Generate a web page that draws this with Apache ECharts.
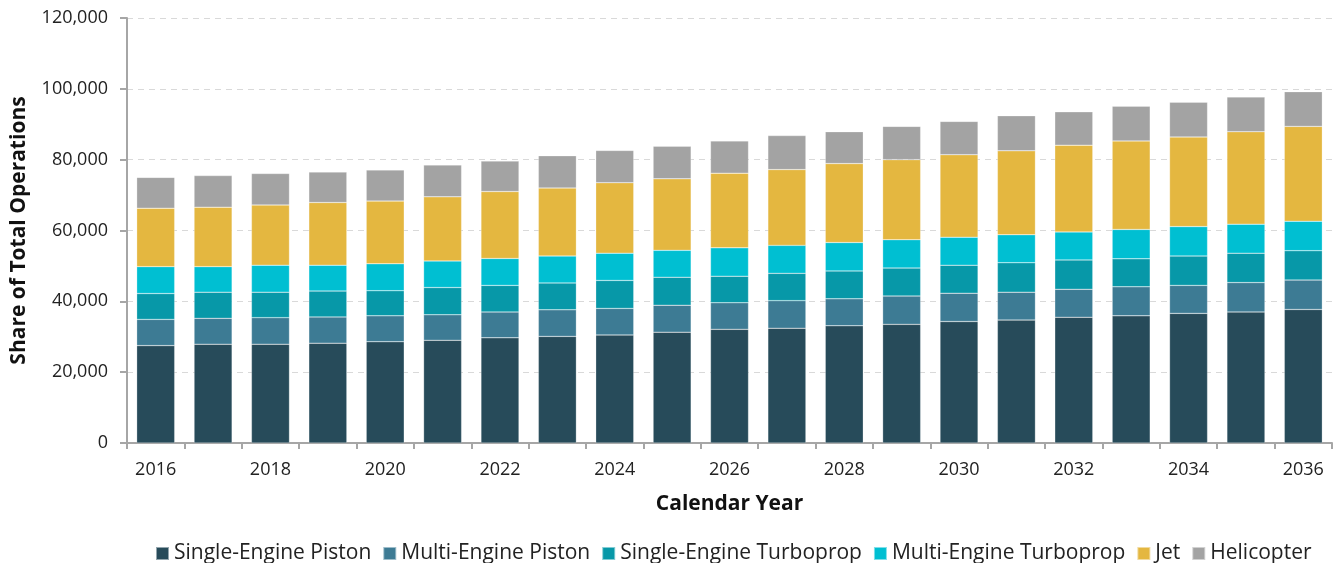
<!DOCTYPE html>
<html>
<head>
<meta charset="utf-8">
<script src="https://cdn.jsdelivr.net/npm/echarts@6/dist/echarts.min.js"></script>
<style>html,body{margin:0;padding:0;background:#fff;}#c{width:1335px;height:563px;}</style>
</head>
<body>
<div id="c"></div>
<script>
const years = ['2016','2017','2018','2019','2020','2021','2022','2023','2024','2025','2026','2027','2028','2029','2030','2031','2032','2033','2034','2035','2036'];
const singleEnginePiston = [27500,27900,27900,28200,28600,29000,29700,30100,30500,31300,32100,32400,33100,33500,34300,34700,35500,35900,36600,37000,37700];
const multiEnginePiston = [7400,7300,7500,7400,7300,7200,7300,7500,7500,7600,7500,7800,7600,8000,8000,7900,7900,8200,7900,8300,8300];
const singleEngineTurboprop = [7300,7400,7200,7300,7100,7700,7500,7600,7900,7900,7500,7700,7900,7900,7900,8300,8300,7900,8300,8300,8300];
const multiEngineTurboprop = [7600,7200,7600,7300,7600,7500,7600,7600,7700,7600,8000,7900,8000,8000,7900,7900,7900,8300,8300,8200,8300];
const jet = [16500,16800,17000,17700,17700,18100,18900,19200,19900,20200,21100,21400,22300,22600,23300,23700,24500,25000,25300,26100,26800];
const helicopter = [8700,8900,8900,8600,8800,9000,8600,9100,9100,9200,9100,9600,9000,9400,9400,9900,9400,9800,9800,9800,9800];

const seriesDefs = [
  ['Single-Engine Piston', singleEnginePiston, '#274b5a'],
  ['Multi-Engine Piston', multiEnginePiston, '#3d7b94'],
  ['Single-Engine Turboprop', singleEngineTurboprop, '#0798a8'],
  ['Multi-Engine Turboprop', multiEngineTurboprop, '#00bfd2'],
  ['Jet', jet, '#e4b740'],
  ['Helicopter', helicopter, '#a3a3a3']
];

const chart = echarts.init(document.getElementById('c'), null, {renderer:'canvas'});
const font = '"Open Sans", "Noto Sans", sans-serif';
chart.setOption({
  animation: false,
  textStyle: {fontFamily: font},
  grid: {left: 127, right: 3, top: 18, bottom: 120},
  legend: {
    left: 150, top: 538,
    itemWidth: 13, itemHeight: 13, itemGap: 11,
    icon: 'rect',
    textStyle: {fontSize: 21, color: '#222', fontFamily: font},
    data: seriesDefs.map(s => s[0])
  },
  xAxis: {
    type: 'category',
    data: years,
    name: 'Calendar Year',
    nameLocation: 'middle',
    nameGap: 51,
    nameTextStyle: {fontSize: 21, fontWeight: 'bold', color: '#111', fontFamily: font},
    axisLine: {lineStyle: {color: '#a6a6a6', width: 2}},
    axisTick: {show: true, length: 6, lineStyle: {color: '#a6a6a6', width: 2}, interval: 0},
    axisLabel: {interval: 1, fontSize: 18, color: '#222', margin: 18, fontFamily: font}
  },
  yAxis: {
    type: 'value',
    min: 0, max: 120000, interval: 20000,
    name: 'Share of Total Operations',
    nameLocation: 'middle',
    nameGap: 97,
    nameRotate: 90,
    nameTextStyle: {fontSize: 21, fontWeight: 'bold', color: '#111', fontFamily: font},
    axisLine: {show: true, lineStyle: {color: '#a6a6a6', width: 2}},
    axisTick: {show: true, length: 7, lineStyle: {color: '#a6a6a6', width: 2}},
    axisLabel: {fontSize: 18, color: '#222', margin: 19, fontFamily: font,
      formatter: v => v.toLocaleString('en-US')},
    splitLine: {lineStyle: {color: '#d9d9d9', type: [6,5], width: 1}}
  },
  series: seriesDefs.map(s => ({
    name: s[0], type: 'bar', stack: 'total', data: s[1],
    barWidth: 38,
    itemStyle: {color: s[2], borderColor: 'rgba(255,255,255,0.5)', borderWidth: 0.5}
  }))
});
</script>
</body>
</html>
